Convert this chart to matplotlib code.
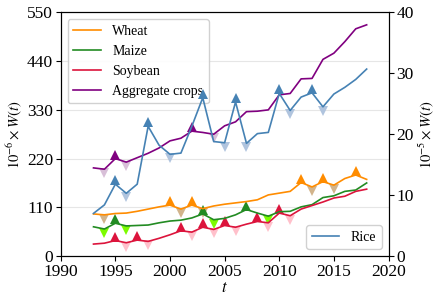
import numpy as np
import matplotlib
matplotlib.use("Agg")
import matplotlib.pyplot as plt
from matplotlib.transforms import offset_copy

plt.rcParams['font.family'] = ['Liberation Serif', 'DejaVu Serif']
plt.rcParams['mathtext.fontset'] = 'stix'

years = np.arange(1993, 2019)

wheat = [95, 93, 96, 97, 101, 106, 111, 115, 106, 115, 107, 113, 117, 120, 123, 127,
         138, 142, 146, 166, 156, 168, 160, 175, 183, 173]
maize = [66, 61, 74, 68, 69, 70, 75, 79, 81, 86, 95, 82, 85, 93, 105, 97,
         90, 100, 101, 111, 116, 132, 136, 146, 149, 165]
soybean = [27, 29, 35, 30, 36, 33, 40, 48, 57, 54, 65, 60, 69, 65, 72, 78,
           75, 97, 91, 106, 114, 122, 131, 135, 146, 151]
aggregate = [199, 196, 220, 212, 222, 232, 244, 260, 266, 282, 279, 275, 294, 303, 326, 327,
             330, 364, 367, 400, 401, 444, 458, 484, 513, 522]
rice = [7.0, 8.4, 11.8, 10.3, 11.8, 21.3, 18.2, 16.7, 16.9, 21.3, 26.0, 18.8, 18.6, 25.3, 18.5, 20.1,
        20.3, 26.7, 23.9, 26.1, 26.8, 24.5, 26.6, 27.7, 29.0, 30.7]

left_series = [
    ("Wheat", wheat, "darkorange", "darkorange", "tan"),
    ("Maize", maize, "forestgreen", "forestgreen", "lawngreen"),
    ("Soybean", soybean, "crimson", "crimson", "pink"),
    ("Aggregate crops", aggregate, "purple", "purple", "thistle"),
]
rice_style = ("Rice", rice, "steelblue", "steelblue", "lightsteelblue")

fig = plt.figure(figsize=(4.4, 3.03), dpi=100)
ax = fig.add_axes([0.138, 0.155, 0.745, 0.804])
ax2 = ax.twinx()


def draw(axis, name, vals, lc, upc, dnc):
    v = np.asarray(vals, dtype=float)
    line, = axis.plot(years, v, color=lc, lw=1.2, label=name, zorder=3)
    inner = np.arange(1, len(v) - 1)
    mx = inner[(v[inner] > v[inner - 1]) & (v[inner] > v[inner + 1])]
    mn = inner[(v[inner] < v[inner - 1]) & (v[inner] < v[inner + 1])]
    tup = offset_copy(axis.transData, fig=fig, x=0, y=4, units='dots')
    tdn = offset_copy(axis.transData, fig=fig, x=0, y=-4, units='dots')
    axis.plot(years[mx], v[mx], '^', color=upc, ms=7.5, transform=tup, zorder=2,
              markeredgewidth=0)
    axis.plot(years[mn], v[mn], 'v', color=dnc, ms=7.5, transform=tdn, zorder=2,
              markeredgewidth=0)
    return line


handles = [draw(ax, *s) for s in left_series]
rh = draw(ax2, *rice_style)

ax.set_xlim(1990, 2020)
ax.set_ylim(0, 550)
ax2.set_ylim(0, 40)
ax.set_xticks(np.arange(1990, 2021, 5))
ax.set_yticks(np.arange(0, 551, 110))
ax2.set_yticks(np.arange(0, 41, 10))
ax.yaxis.grid(True, color='#e6e6e6', lw=0.8)
ax.set_axisbelow(True)

ax.tick_params(labelsize=12.5, pad=2)
ax2.tick_params(labelsize=12.5, pad=2)
ax.set_xlabel('$t$', fontsize=12, labelpad=0)
ax.set_ylabel(r'$10^{-6}\times W(t)$', fontsize=10.5, labelpad=2)
ax2.set_ylabel(r'$10^{-5}\times W(t)$', fontsize=10.5, labelpad=2)

ax.legend(handles=handles, loc='upper left', fontsize=10, framealpha=0.9)
ax2.legend(handles=[rh], loc='lower right', fontsize=10, framealpha=0.9)

fig.savefig('out.png', dpi=100)
